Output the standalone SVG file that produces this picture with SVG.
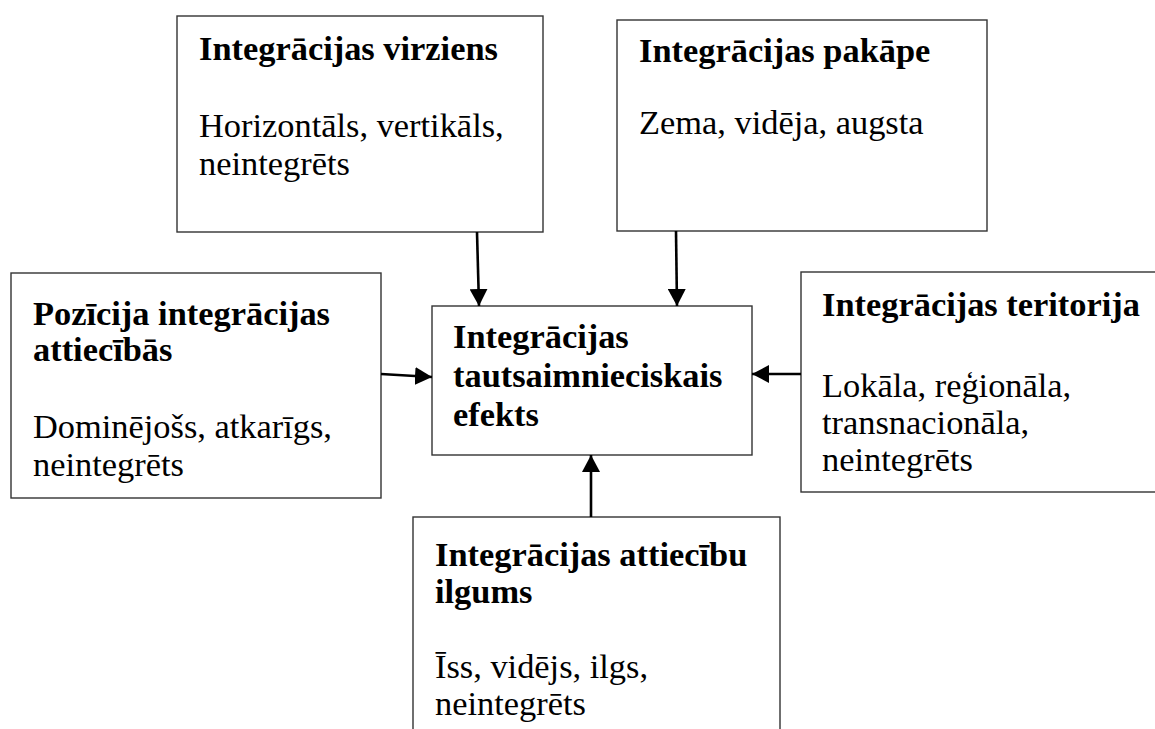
<svg xmlns="http://www.w3.org/2000/svg" width="1155" height="729" viewBox="0 0 1155 729">
<style>
.box{fill:#fff;stroke:#333;stroke-width:1.4}
.t{font-family:"Liberation Serif","Times New Roman",serif;font-size:34.4px;fill:#000}
.b{font-weight:bold}
.c{stroke:#000;stroke-width:2.6;fill:none}
</style>
<defs>
<marker id="ah" viewBox="0 0 17 18" refX="17" refY="9" markerWidth="17" markerHeight="18" markerUnits="userSpaceOnUse" orient="auto">
<path d="M0,0 L17,9 L0,18 z" fill="#000"/>
</marker>
</defs>
<rect width="1155" height="729" fill="#fff"/>
<g id="n-virziens">
<rect class="box" x="177" y="16" width="366" height="216"/>
<text class="t b" x="199" y="60">Integrācijas virziens</text>
<text class="t" x="199" y="137">Horizontāls, vertikāls,</text>
<text class="t" x="199" y="175">neintegrēts</text>
</g>
<g id="n-pakape">
<rect class="box" x="617" y="20" width="370" height="211"/>
<text class="t b" x="639" y="62">Integrācijas pakāpe</text>
<text class="t" x="639" y="134">Zema, vidēja, augsta</text>
</g>
<g id="n-pozicija">
<rect class="box" x="11" y="273" width="370" height="225"/>
<text class="t b" x="33" y="325">Pozīcija integrācijas</text>
<text class="t b" x="33" y="361">attiecībās</text>
<text class="t" x="33" y="438">Dominējošs, atkarīgs,</text>
<text class="t" x="33" y="476">neintegrēts</text>
</g>
<g id="n-efekts">
<rect class="box" x="432" y="306" width="320" height="149"/>
<text class="t b" x="453" y="348">Integrācijas</text>
<text class="t b" x="453" y="387">tautsaimnieciskais</text>
<text class="t b" x="453" y="426">efekts</text>
</g>
<g id="n-teritorija">
<rect class="box" x="801" y="272" width="370" height="220"/>
<text class="t b" x="822" y="316">Integrācijas teritorija</text>
<text class="t" x="822" y="397">Lokāla, reģionāla,</text>
<text class="t" x="822" y="434">transnacionāla,</text>
<text class="t" x="822" y="471">neintegrēts</text>
</g>
<g id="n-ilgums">
<rect class="box" x="413" y="517" width="367" height="230"/>
<text class="t b" x="435" y="566">Integrācijas attiecību</text>
<text class="t b" x="435" y="603">ilgums</text>
<text class="t" x="435" y="678">Īss, vidējs, ilgs,</text>
<text class="t" x="435" y="715">neintegrēts</text>
</g>
<g id="connectors">
<line class="c" x1="477" y1="232" x2="479" y2="306" marker-end="url(#ah)"/>
<line class="c" x1="676" y1="231" x2="677" y2="306" marker-end="url(#ah)"/>
<line class="c" x1="381" y1="374" x2="432" y2="377" marker-end="url(#ah)"/>
<line class="c" x1="801" y1="374" x2="752" y2="374" marker-end="url(#ah)"/>
<line class="c" x1="591" y1="517" x2="591" y2="455" marker-end="url(#ah)"/>
</g>
</svg>
